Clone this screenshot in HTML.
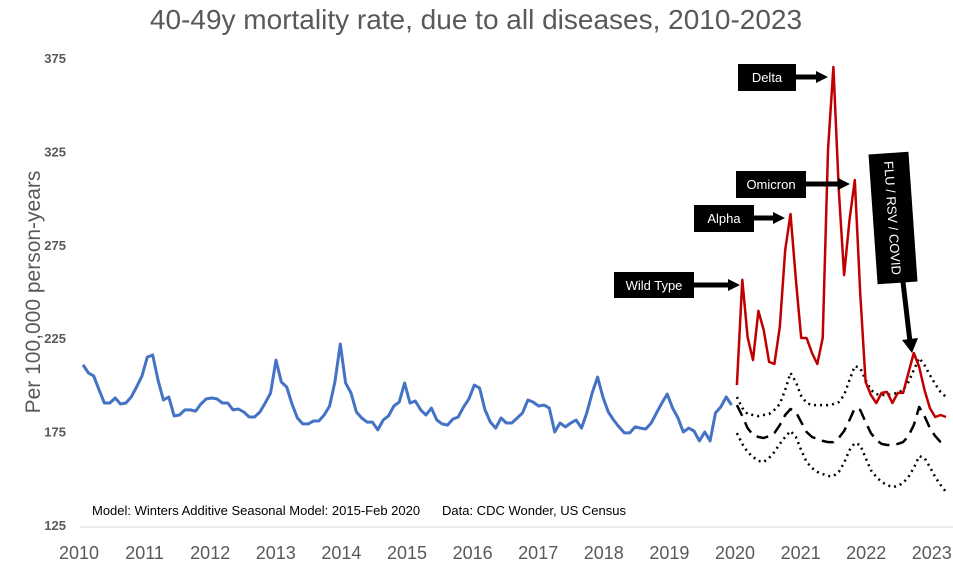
<!DOCTYPE html>
<html><head><meta charset="utf-8"><style>
body{margin:0;background:#fff;}
svg text{font-family:"Liberation Sans",sans-serif;}
</style></head><body>
<svg id="chart" width="953" height="566" viewBox="0 0 953 566" xmlns="http://www.w3.org/2000/svg">
<rect width="953" height="566" fill="#fff"/>
<text x="476" y="29" text-anchor="middle" font-size="28" fill="#595959">40-49y mortality rate, due to all diseases, 2010-2023</text>
<text transform="translate(40,292) rotate(-90)" text-anchor="middle" font-size="21" fill="#595959">Per 100,000 person-years</text>
<g id="yticks"></g><g id="xticks"></g>
<line x1="80" y1="527" x2="953" y2="527" stroke="#d9d9d9" stroke-width="1"/>
<g id="series"></g>
<text x="92" y="515" font-size="13" fill="#000">Model: Winters Additive Seasonal Model: 2015-Feb 2020</text>
<text x="442" y="515" font-size="13" fill="#000">Data: CDC Wonder, US Census</text>
<g>
<rect x="614" y="272" width="80" height="26" fill="#000"/><text x="654" y="290" text-anchor="middle" font-size="13" fill="#fff">Wild Type</text>
<line x1="694" y1="285" x2="730" y2="285" stroke="#000" stroke-width="5"/><polygon points="728,279 740,285 728,291" fill="#000"/></g>
<g>
<rect x="694" y="205" width="60" height="27" fill="#000"/><text x="724" y="223" text-anchor="middle" font-size="13" fill="#fff">Alpha</text>
<line x1="754" y1="218" x2="775" y2="218" stroke="#000" stroke-width="5"/><polygon points="773,212 785,218 773,224" fill="#000"/></g>
<g>
<rect x="736" y="171" width="70" height="27" fill="#000"/><text x="771" y="189" text-anchor="middle" font-size="13" fill="#fff">Omicron</text>
<line x1="806" y1="184" x2="840" y2="184" stroke="#000" stroke-width="5"/><polygon points="838,178 850,184 838,190" fill="#000"/></g>
<g>
<rect x="738" y="64" width="58" height="27" fill="#000"/><text x="767" y="82" text-anchor="middle" font-size="13" fill="#fff">Delta</text>
<line x1="796" y1="77" x2="818" y2="77" stroke="#000" stroke-width="5"/><polygon points="816,71 828,77 816,83" fill="#000"/></g>
<g>
<g transform="translate(893,218) rotate(-4)"><rect x="-20" y="-65" width="40" height="130" fill="#000"/>
<text transform="rotate(90)" x="0" y="5" text-anchor="middle" font-size="13" fill="#fff">FLU / RSV / COVID</text></g>
<line x1="903" y1="282" x2="910" y2="342" stroke="#000" stroke-width="5"/><polygon points="902,340 918,338 912,353" fill="#000"/></g>
</svg>
<script>
const yTicks=[125,175,225,275,325,375];
const xYears=[2010,2011,2012,2013,2014,2015,2016,2017,2018,2019,2020,2021,2022,2023];
const observed=[210.7,206.4,204.8,197.3,190.3,190.3,193,189.8,190.3,193.5,198.9,204.8,
214.9,216,202.6,191.9,193.5,183.4,183.9,186.6,186.6,186,189.8,192.5,
193,192.5,190.3,190.3,186.6,187.1,185.5,182.8,182.8,185.5,190.3,195.7,
213.3,201.6,198.9,189.8,182.3,179.1,179.1,180.7,180.7,183.9,188.7,201.6,
221.9,201,195.7,185.5,182.3,180.1,180.1,175.9,181.2,183.4,188.7,190.8,
201,190.3,191.4,186.6,183.9,187.6,181.2,179.1,178.5,181.7,182.8,188.2,192.5,199.9,
198.3,186.6,180.1,176.9,182.3,179.6,179.6,182.3,185,191.9,190.8,188.7,189.2,187.6,174.8,179.6,177.5,179.6,181.2,176.9,185,195.7,
204.2,193.5,185.5,181.2,177.5,174.3,174.3,177.5,176.9,176.4,179.6,185,190.3,
195.1,187.6,182.3,174.8,176.9,175.3,170,174.8,170,185,188.2,193.5,189.2];
const covid=[199.9,256.2,225.6,213.3,239.6,229.4,212.3,211.2,231,272.2,291.5,256.2,225.1,225.1,217.1,211.2,225.1,325.7,370.2,304.3,258.8,288.3,309.7,249.2,201.6,194.6,190.3,195.7,196.2,190.3,195.7,195.7,206.4,217.1,209.6,197.3,187.6,182.8,183.9,182.8];
const forecast=[189.2,183.3,176.9,173.2,172.1,171.6,172.6,174.2,178.5,183.9,187.1,185.5,180.1,174.8,172.1,171.1,170,169.4,169.4,171.6,175.3,181.2,187.6,186.6,180.1,174.2,170.5,168.4,167.8,167.8,168.4,169.4,172.6,178.5,188.2,183.3,176.9,172.6,169.4,167.3];
const upperBound=[193.5,187.6,184.4,183.9,183.3,183.9,184.4,186.6,189.8,197.3,206.4,201.5,194.1,190.3,189.2,189.2,189.2,189.2,189.8,190.8,194.6,202.6,210.1,209,202.6,197.3,195.1,194.6,194.6,195.1,195.7,197.3,201.5,208,214.4,210.6,205.3,200.5,196.2,193.5];
const lowerBound=[174.2,168.4,164.1,161.4,159.3,158.7,160.9,164.1,168.4,172.1,175.3,172.1,165.1,158.7,155.5,153.4,152.3,151.2,151.2,153.4,158.2,165.1,168.9,167.8,160.9,154.4,150.7,148,146.4,145.3,145.9,147.5,150.7,155.5,161.9,160.9,156,150.7,146.4,142.7];
const forecastStart=122;
const NS='http://www.w3.org/2000/svg';
function xm(i){return 83+i*5.36;}
function xy(year){return 79+(year-2010)*65.6;}
function yv(v){return 525-(v-125)*1.868;}
const yt=document.getElementById('yticks');
yTicks.forEach(t=>{const e=document.createElementNS(NS,'text');


e.setAttribute('x',66);e.setAttribute('y',yv(t)+5);e.setAttribute('text-anchor','end');
e.setAttribute('font-size','13');e.setAttribute('font-weight','bold');e.setAttribute('fill','#595959');
e.textContent=t;yt.appendChild(e);});
const xt=document.getElementById('xticks');
xYears.forEach(t=>{const e=document.createElementNS(NS,'text');


e.setAttribute('x',xy(t));e.setAttribute('y',559);e.setAttribute('text-anchor','middle');
e.setAttribute('font-size','18');e.setAttribute('fill','#595959');
e.textContent=t;xt.appendChild(e);});
const sg=document.getElementById('series');
function line(vals,start,color,w,dash,name){
const p=vals.map((v,k)=>xm(start+k).toFixed(1)+','+yv(v).toFixed(1)).join(' ');
const e=document.createElementNS(NS,'polyline');


e.setAttribute('points',p);e.setAttribute('fill','none');e.setAttribute('stroke',color);
e.setAttribute('stroke-width',w);e.setAttribute('stroke-linejoin','round');
if(dash){e.setAttribute('stroke-dasharray',dash);}
sg.appendChild(e);}
line(upperBound,forecastStart,'#000',2.5,'2 4','upper-bound-line');
line(lowerBound,forecastStart,'#000',2.5,'2 4','lower-bound-line');
line(forecast,forecastStart,'#000',2.5,'12 7','forecast-line');
line(observed,0,'#4472C4',3,null,'observed-2010-2020-line');
line(covid,forecastStart,'#C00000',2.5,null,'covid-period-line');
</script>
</body></html>
